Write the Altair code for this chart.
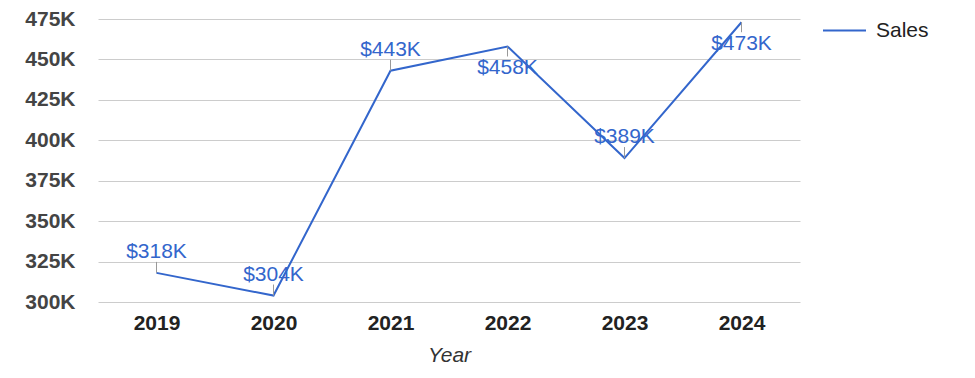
import altair as alt
import pandas as pd

years = ["2019", "2020", "2021", "2022", "2023", "2024"]
sales = [318000, 304000, 443000, 458000, 389000, 473000]
series = ["Sales"] * len(years)
below_years = ["2022", "2024"]

df = pd.DataFrame({"Year": years, "Sales": sales, "Series": series})

FONT = "Liberation Sans"
BLUE = "#3366cc"

x = alt.X("Year:O", scale=alt.Scale(type="point", padding=0.5),
          axis=alt.Axis(title="Year", labelAngle=0, labelFontWeight="bold",
                        labelFontSize=21, labelColor="#222222", labelFont=FONT,
                        labelPadding=10, ticks=False, domain=False, grid=False,
                        titleFont=FONT, titleFontSize=21, titleFontStyle="italic",
                        titleFontWeight="normal", titleColor="#333333", titlePadding=11))
y = alt.Y("Sales:Q", scale=alt.Scale(domain=[300000, 475000], nice=False, zero=False),
          axis=alt.Axis(title=None, values=list(range(300000, 475001, 25000)),
                        labelExpr="format(datum.value/1000, 'd') + 'K'",
                        labelFontWeight="bold", labelFontSize=21, labelColor="#444444",
                        labelFont=FONT, labelPadding=23, ticks=False, domain=False,
                        grid=True, gridColor="#cccccc", gridWidth=1))

base = alt.Chart(df)

line = base.mark_line(strokeWidth=2).encode(
    x=x, y=y,
    color=alt.Color("Series:N", scale=alt.Scale(range=[BLUE]),
                    legend=alt.Legend(title=None, orient="none", legendX=724, legendY=-11,
                                      symbolType="stroke", symbolSize=1849,
                                      symbolStrokeWidth=2, labelFont=FONT,
                                      labelFontSize=21, labelColor="#222222",
                                      labelOffset=9, padding=0)),
)

is_below = alt.FieldOneOfPredicate(field="Year", oneOf=below_years)
above = base.transform_filter(~is_below)
below = base.transform_filter(is_below)

stem_above = above.mark_rule(color="#999999", strokeWidth=1, yOffset=-11).encode(
    x="Year:O", y="Sales:Q", y2="Sales:Q")
stem_below = below.mark_rule(color="#999999", strokeWidth=1, y2Offset=10).encode(
    x="Year:O", y="Sales:Q", y2="Sales:Q")

text_above = above.transform_calculate(
    lab="'$' + format(datum.Sales/1000, 'd') + 'K'"
).mark_text(font=FONT, fontSize=21, color=BLUE, baseline="alphabetic", dy=-15).encode(
    x="Year:O", y="Sales:Q", text="lab:N")
text_below = below.transform_calculate(
    lab="'$' + format(datum.Sales/1000, 'd') + 'K'"
).mark_text(font=FONT, fontSize=21, color=BLUE, baseline="alphabetic", dy=28).encode(
    x="Year:O", y="Sales:Q", text="lab:N")

chart = alt.layer(line, stem_above, stem_below, text_above, text_below).properties(
    width=702, height=283,
    background="white",
    autosize=alt.AutoSizeParams(type="none"),
    padding={"left": 90, "top": 11, "right": 167, "bottom": 74},
).configure_view(stroke=None, strokeWidth=0)

chart.save("out.html", embed_options={"renderer": "svg", "actions": False})
